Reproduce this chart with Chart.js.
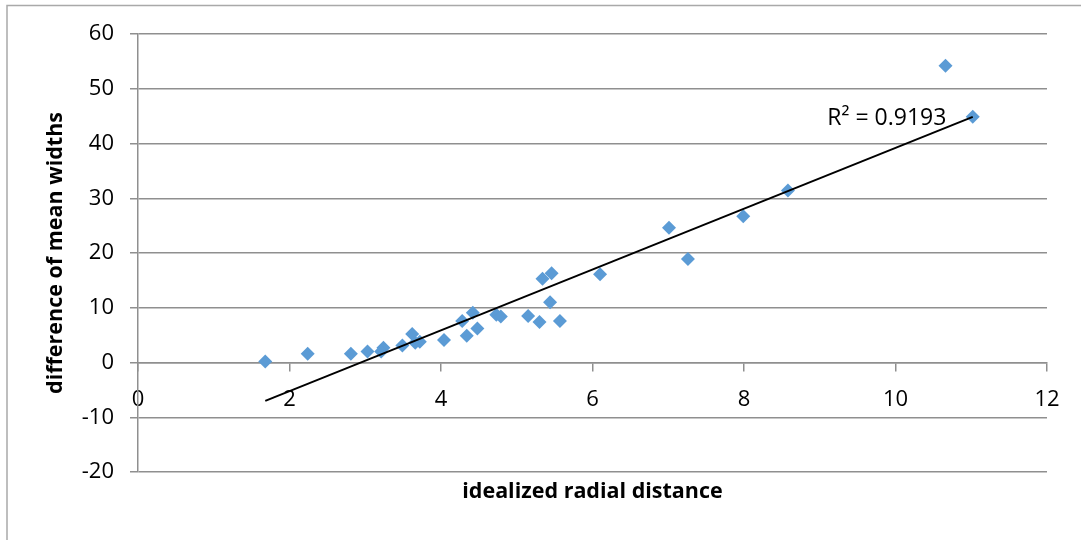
<!DOCTYPE html>
<html>
<head>
<meta charset="utf-8">
<script src="https://cdn.jsdelivr.net/npm/chart.js@4.4.1/dist/chart.umd.min.js"></script>
<style>
  html, body { margin: 0; padding: 0; background: #fff; }
  #wrap { width: 1081px; height: 540px; position: relative; }
</style>
</head>
<body>
<div id="wrap"><canvas id="scatterChart" width="1081" height="540"></canvas></div>
<script>
// ─── DATA ─────────────────────────────────────────────────────────
const radialDistance = [
  1.68, 2.24, 2.81, 3.03, 3.24, 3.21, 3.49, 3.62, 3.66, 3.72,
  4.04, 4.28, 4.34, 4.42, 4.48, 4.73, 4.79, 5.15, 5.30, 5.34,
  5.44, 5.46, 5.57, 6.10, 7.01, 7.26, 7.99, 8.58, 10.66, 11.02,
];
const widthDifference = [
  0.2, 1.6, 1.6, 2.0, 2.7, 2.0, 3.1, 5.2, 3.6, 3.8,
  4.1, 7.6, 4.9, 9.1, 6.2, 8.7, 8.4, 8.5, 7.4, 15.3,
  11.0, 16.3, 7.6, 16.1, 24.6, 18.9, 26.7, 31.4, 54.2, 44.9,
];
const xTicks = [0, 2, 4, 6, 8, 10, 12];
const yTicks = [-20, -10, 0, 10, 20, 30, 40, 50, 60];
const xTitle = "idealized radial distance";
const yTitle = "difference of mean widths";
const rSquaredLabel = "R² = 0.9193";

const gridGray = "#8f8f8f";
const tickFont = { family: "'Open Sans'", size: 22 };
const titleFont = { family: "'Open Sans'", size: 21.5, weight: "bold" };

// ─── LINEAR TREND (least squares) ─────────────────────────────────
const points = radialDistance.map((x, i) => ({ x, y: widthDifference[i] }));
const n = points.length;
const meanX = radialDistance.reduce((a, b) => a + b, 0) / n;
const meanY = widthDifference.reduce((a, b) => a + b, 0) / n;
let sxy = 0;
let sxx = 0;
points.forEach((p) => {
  sxy += (p.x - meanX) * (p.y - meanY);
  sxx += (p.x - meanX) * (p.x - meanX);
});
const slope = sxy / sxx;
const intercept = meanY - slope * meanX;
const xMin = Math.min(...radialDistance);
const xMax = Math.max(...radialDistance);
const trendPoints = [
  { x: xMin, y: intercept + slope * xMin },
  { x: xMax, y: intercept + slope * xMax },
];

// ─── PLUGINS ──────────────────────────────────────────────────────
const framePlugin = {
  id: "frame",
  beforeDraw(chart) {
    const c = chart.ctx;
    c.save();
    c.strokeStyle = "#a9a9a9";
    c.lineWidth = 1.5;
    c.strokeRect(7, 5.5, 1200, 600);
    c.restore();
  },
};

const rLabelAt = { x: 9.1, y: 44.5 };
const rSquaredPlugin = {
  id: "rSquared",
  afterDatasetsDraw(chart) {
    const { ctx, scales } = chart;
    ctx.save();
    ctx.font = "23px 'Open Sans'";
    ctx.fillStyle = "#000";
    ctx.textAlign = "left";
    ctx.textBaseline = "middle";
    ctx.fillText(
      rSquaredLabel,
      scales.x.getPixelForValue(rLabelAt.x),
      scales.y.getPixelForValue(rLabelAt.y),
    );
    ctx.restore();
  },
};

// ─── CHART ────────────────────────────────────────────────────────
const ctx = document.getElementById("scatterChart").getContext("2d");

new Chart(ctx, {
  type: "scatter",
  data: {
    datasets: [
      {
        label: "widths",
        data: points,
        pointStyle: "rectRot",
        pointRadius: 7,
        pointHoverRadius: 7,
        backgroundColor: "#5b9bd5",
        borderColor: "#5b9bd5",
        borderWidth: 0,
        order: 1,
      },
      {
        type: "line",
        label: "trend",
        data: trendPoints,
        borderColor: "#000",
        borderWidth: 2,
        pointRadius: 0,
        fill: false,
        order: 0,
      },
    ],
  },
  options: {
    responsive: false,
    animation: false,
    layout: { padding: { left: 0, top: 34, right: 34, bottom: 0 } },
    plugins: {
      legend: { display: false },
      tooltip: { enabled: false },
    },
    scales: {
      x: {
        type: "linear",
        position: { y: 0 },
        min: 0,
        max: 12,
        afterBuildTicks: (s) => {
          s.ticks = xTicks.map((v) => ({ value: v }));
        },
        border: { display: true, color: gridGray, width: 1.5 },
        grid: {
          display: true,
          drawOnChartArea: false,
          drawTicks: true,
          tickLength: 8,
          color: gridGray,
          lineWidth: 1.5,
        },
        ticks: { color: "#000", font: tickFont, padding: 16, maxRotation: 0 },
      },
      xTitle: {
        type: "linear",
        axis: "x",
        position: "bottom",
        min: 0,
        max: 12,
        ticks: { display: false },
        grid: { display: false },
        border: { display: false },
        title: {
          display: true,
          text: xTitle,
          color: "#000",
          font: titleFont,
          padding: { top: 0, bottom: 35 },
        },
        afterFit: (s) => {
          s.height = 68;
        },
      },
      y: {
        type: "linear",
        position: "left",
        min: -20,
        max: 60,
        afterBuildTicks: (s) => {
          s.ticks = yTicks.map((v) => ({ value: v }));
        },
        border: { display: true, color: gridGray, width: 1.5 },
        grid: { color: gridGray, lineWidth: 1.5, tickLength: 8 },
        ticks: { color: "#000", font: tickFont, padding: 16 },
        title: {
          display: true,
          text: yTitle,
          color: "#000",
          font: titleFont,
          padding: { top: 43, bottom: 0 },
        },
        afterFit: (s) => {
          s.width = 138;
        },
      },
    },
  },
  plugins: [framePlugin, rSquaredPlugin],
});
</script>
</body>
</html>
